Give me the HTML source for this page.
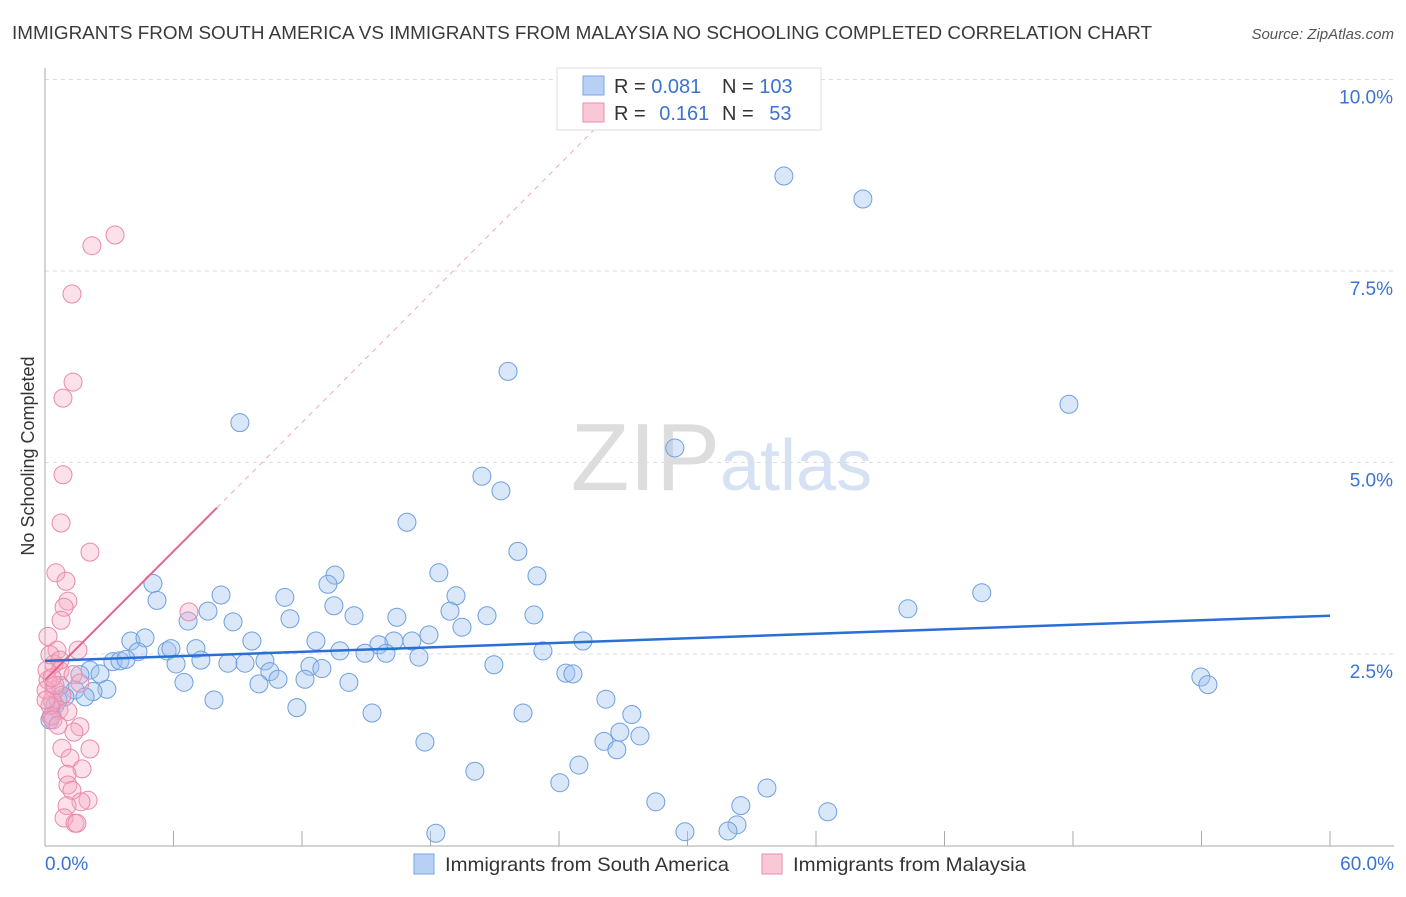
<!DOCTYPE html>
<html><head><meta charset="utf-8"><style>
body{margin:0;background:#fff;font-family:"Liberation Sans",sans-serif;}
svg text{font-family:"Liberation Sans",sans-serif;}
</style></head><body>
<svg id="chart" width="1406" height="892">
<text x="12" y="39" font-size="18" fill="#3a3a3a" textLength="1140" lengthAdjust="spacingAndGlyphs">IMMIGRANTS FROM SOUTH AMERICA VS IMMIGRANTS FROM MALAYSIA NO SCHOOLING COMPLETED CORRELATION CHART</text>
<text x="1394" y="39" font-size="15" fill="#555" text-anchor="end" font-style="italic">Source: ZipAtlas.com</text>
<text x="720" y="490" font-size="96" fill="#ddd" text-anchor="end" font-family="Liberation Serif">ZIP</text>
<text x="720" y="490" font-size="72" fill="#d6e2f3">atlas</text>
<text transform="translate(34,456) rotate(-90)" font-size="18" fill="#333" text-anchor="middle">No Schooling Completed</text>
<g id="grid"></g><g id="axes"></g><g id="marks"></g>
<g>
<rect x="557" y="68" width="264" height="62" fill="#fff" stroke="#ddd"/>
<rect x="583" y="76" width="21" height="19" fill="#b8d0f4" stroke="#7aa6e6"/>
<rect x="583" y="103" width="21" height="19" fill="#f9c8d6" stroke="#eb8fab"/>
<text x="614" y="93" font-size="20" fill="#333">R = <tspan fill="#3b73d0">0.081</tspan></text>
<text x="722" y="93" font-size="20" fill="#333">N = <tspan fill="#3b73d0">103</tspan></text>
<text x="614" y="120" font-size="20" fill="#333">R = <tspan fill="#3b73d0" dx="8">0.161</tspan></text>
<text x="722" y="120" font-size="20" fill="#333">N = <tspan fill="#3b73d0" dx="10">53</tspan></text>
</g>
<g>
<rect x="414" y="854" width="20" height="20" fill="#b8d0f4" stroke="#7aa6e6"/>
<text x="445" y="871" font-size="19.5" fill="#333" textLength="284" lengthAdjust="spacingAndGlyphs">Immigrants from South America</text>
<rect x="762" y="854" width="20" height="20" fill="#f9c8d6" stroke="#eb8fab"/>
<text x="793" y="871" font-size="19.5" fill="#333" textLength="233" lengthAdjust="spacingAndGlyphs">Immigrants from Malaysia</text>
</g>
</svg>
<script>
const yTicks=[2.5,5.0,7.5,10.0];
const yTickLabels=["2.5%","5.0%","7.5%","10.0%"];
const xTickLabels=["0.0%","60.0%"];
const blueX=[34.5,38.19,21.62,9.10,47.81,29.41,20.40,21.29,16.90,22.08,5.04,5.23,13.54,13.21,18.39,22.97,8.22,11.20,19.19,7.61,13.49,16.43,14.43,20.64,22.83,18.91,19.47,40.29,43.74,6.68,8.78,11.44,4.01,4.67,9.66,12.65,17.93,17.13,16.29,15.59,13.77,14.94,15.92,5.70,5.88,7.05,4.34,23.25,25.12,3.17,3.50,3.78,7.28,6.12,8.54,10.27,17.46,12.37,12.93,20.96,10.50,10.88,9.34,6.49,9.99,12.14,14.19,24.32,24.65,53.97,54.30,2.10,1.63,2.57,2.89,2.24,1.40,0.93,1.87,7.89,11.76,15.27,22.32,26.19,27.40,26.84,27.78,26.10,26.70,17.74,24.93,20.07,24.04,33.71,28.52,32.49,36.55,32.31,29.88,31.89,18.25,0.47,0.33,0.70,0.61,0.23];
const blueY=[8.74,8.44,6.19,5.52,5.76,5.19,4.82,4.63,4.22,3.84,3.42,3.20,3.53,3.41,3.56,3.52,3.27,3.24,3.26,3.06,3.13,2.98,3.00,3.00,3.01,3.06,2.85,3.09,3.30,2.93,2.92,2.96,2.67,2.71,2.67,2.67,2.75,2.67,2.67,2.62,2.54,2.51,2.51,2.54,2.57,2.57,2.53,2.54,2.67,2.40,2.41,2.43,2.42,2.37,2.38,2.41,2.46,2.34,2.31,2.36,2.27,2.17,2.38,2.13,2.11,2.17,2.13,2.25,2.24,2.20,2.10,2.29,2.23,2.24,2.04,2.01,2.03,1.94,1.94,1.90,1.80,1.73,1.73,1.91,1.71,1.48,1.43,1.36,1.25,1.35,1.05,0.97,0.82,0.75,0.57,0.52,0.44,0.27,0.18,0.19,0.16,1.83,1.70,2.09,1.90,1.64];
const pinkX=[3.27,2.19,1.26,1.31,0.84,0.84,0.75,2.10,0.51,0.98,1.07,0.89,0.75,6.72,0.14,0.56,1.54,0.42,0.70,1.31,1.63,0.47,0.79,0.33,0.65,1.07,0.28,1.63,1.35,0.79,2.10,1.17,1.73,1.03,1.07,1.26,2.01,1.68,1.03,0.89,1.40,1.49,0.14,0.23,0.05,0.47,0.09,0.23,0.37,0.70,0.61,0.05,0.33];
const pinkY=[7.97,7.83,7.20,6.05,5.84,4.84,4.21,3.83,3.56,3.45,3.19,3.11,2.94,3.05,2.73,2.55,2.55,2.37,2.28,2.23,2.12,2.03,1.96,1.89,1.77,1.75,1.68,1.55,1.48,1.27,1.26,1.14,1.00,0.93,0.79,0.72,0.59,0.57,0.52,0.36,0.29,0.29,2.16,1.83,2.03,2.09,2.29,2.49,1.64,2.42,1.57,1.90,2.19];
const blueTrend=[2.41,3.00];
const pinkTrend=[2.16,4.41];
const pinkSolidEnd=8.03, pinkDashEnd=28.0;
const X0=45,X1=1330,Y0=845.5,PXY=76.6;
const sx=v=>X0+v/60*(X1-X0), sy=v=>Y0-v*PXY;
const NS="http://www.w3.org/2000/svg";
function mk(tag,attrs,parent){const e=document.createElementNS(NS,tag);for(const k in attrs)e.setAttribute(k,attrs[k]);document.getElementById(parent).appendChild(e);return e;}
yTicks.forEach((t,i)=>{
 const g=mk('line',{x1:X0,x2:1394,y1:sy(t),y2:sy(t),stroke:'#ddd','stroke-dasharray':'4,4'},'grid');
 
 
 const l=mk('text',{x:1393,y:sy(t)+24,'font-size':19,fill:'#3b73d0','text-anchor':'end'},'grid');
 l.textContent=yTickLabels[i];
 
 
});
const ax=mk('line',{x1:X0,x2:X0,y1:68,y2:846,stroke:'#aaa'},'axes');


const bx=mk('line',{x1:X0,x2:X1+64,y1:846,y2:846,stroke:'#aaa'},'axes');


for(let i=1;i<=10;i++){const t=mk('line',{x1:sx(i*6),x2:sx(i*6),y1:831,y2:846,stroke:'#aaa'},'axes');
 
 }
[[0,'start',45],[60,'end',1394]].forEach((d,i)=>{const l=mk('text',{x:d[2],y:870,'font-size':19,fill:'#3b73d0','text-anchor':d[1]},'axes');l.textContent=xTickLabels[i];
 
 });
blueX.forEach((x,i)=>{const c=mk('circle',{cx:sx(x),cy:sy(blueY[i]),r:9,fill:'rgba(160,195,240,0.4)',stroke:'#6d9fe0','stroke-width':1},'marks');
 
 });
pinkX.forEach((x,i)=>{const c=mk('circle',{cx:sx(x),cy:sy(pinkY[i]),r:9,fill:'rgba(245,170,195,0.35)',stroke:'#ea8aa8','stroke-width':1},'marks');
 
 });
const slope=(pinkTrend[1]-pinkTrend[0])/pinkSolidEnd;
const pd=mk('line',{x1:sx(pinkSolidEnd),y1:sy(pinkTrend[1]),x2:sx(pinkDashEnd),y2:sy(pinkTrend[0]+slope*pinkDashEnd),stroke:'#f0a8bf','stroke-width':1,'stroke-dasharray':'5,5'},'marks');


const pl=mk('line',{x1:sx(0),y1:sy(pinkTrend[0]),x2:sx(pinkSolidEnd),y2:sy(pinkTrend[1]),stroke:'#e9628c','stroke-width':2},'marks');


const bl=mk('line',{x1:sx(0),y1:sy(blueTrend[0]),x2:sx(60),y2:sy(blueTrend[1]),stroke:'#2a6fd6','stroke-width':2.5},'marks');


</script>
</body></html>
